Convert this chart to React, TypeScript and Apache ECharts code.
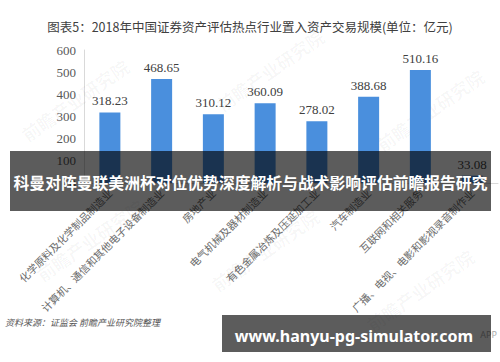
import React, { useEffect, useRef } from "react";
import * as echarts from "echarts";

const categories = [
  "化学原料及化学制品制造业",
  "计算机、通信和其他电子设备制造业",
  "房地产业",
  "电气机械及器材制造业",
  "有色金属冶炼及压延加工业",
  "汽车制造业",
  "互联网和相关服务",
  "广播、电视、电影和影视录音制作业",
];
const values = [318.23, 468.65, 310.12, 360.09, 278.02, 388.68, 510.16, 33.08];
const titleText = "图表5：2018年中国证券资产评估热点行业置入资产交易规模(单位：亿元)";
const bannerText = "科曼对阵曼联美洲杯对位优势深度解析与战术影响评估前瞻报告研究";
const urlText = "www.hanyu-pg-simulator.com";
const sourceText = "资料来源：证监会 前瞻产业研究院整理";
const watermarkText = "前瞻产业研究院";

export default function App() {
  const ref = useRef<HTMLDivElement>(null);
  useEffect(() => {
    if (!ref.current) return;
    const chart = echarts.init(ref.current, undefined, { renderer: "svg" });
    const wm = (x: number, y: number) => ({
      type: "text",
      x,
      y,
      rotation: (35 * Math.PI) / 180,
      z: 1,
      silent: true,
      style: {
        text: watermarkText,
        fill: "rgba(0,0,0,0.035)",
        font: "bold 18px 'Noto Sans CJK SC'",
        align: "center",
        verticalAlign: "middle",
      },
    });
    chart.setOption({
      animation: false,
      backgroundColor: "#ffffff",
      title: {
        text: titleText,
        left: "center",
        top: 15,
        textStyle: {
          fontFamily: "'Noto Sans CJK SC'",
          fontSize: 12.5,
          fontWeight: "normal",
          color: "#404040",
        },
      },
      grid: { left: 84, right: 2, top: 50, bottom: 179, containLabel: false },
      xAxis: {
        type: "category",
        data: categories,
        axisLine: { show: true, lineStyle: { color: "#d9d9d9" } },
        axisTick: { show: false },
        axisLabel: {
          interval: 0,
          rotate: 45,
          margin: 8,
          fontFamily: "'Noto Sans CJK SC'",
          fontSize: 10.5,
          color: "#6b6b6b",
        },
      },
      yAxis: {
        type: "value",
        min: 0,
        max: 600,
        interval: 100,
        axisLine: { show: true, lineStyle: { color: "#d9d9d9" } },
        axisTick: { show: false },
        splitLine: { show: false },
        axisLabel: {
          margin: 8,
          fontFamily: "'Liberation Serif'",
          fontSize: 13,
          color: "#595959",
        },
      },
      series: [
        {
          type: "bar",
          data: values,
          barWidth: 21,
          itemStyle: { color: "#4a8fdd" },
          label: {
            show: true,
            position: "top",
            distance: 5,
            fontFamily: "'Liberation Serif'",
            fontSize: 13,
            color: "#404040",
            formatter: (p: any) => p.value.toFixed(2),
          },
        },
      ],
      graphic: [
        wm(75, 100),
        wm(270, 70),
        wm(430, 110),
        wm(90, 240),
        wm(265, 250),
        wm(420, 290),
        {
          type: "text",
          left: 5,
          top: 318,
          z: 50,
          style: {
            text: sourceText,
            fill: "#555555",
            font: "italic 9px 'Noto Sans CJK SC'",
          },
        },
        {
          type: "text",
          x: 497,
          y: 334,
          z: 50,
          style: {
            text: "APP",
            fill: "#aaaaaa",
            font: "9px 'Noto Sans'",
            align: "right",
            verticalAlign: "middle",
          },
        },
        {
          type: "rect",
          z: 100,
          shape: { x: 10, y: 151, width: 481, height: 60 },
          style: { fill: "rgba(0,0,0,0.64)" },
        },
        {
          type: "text",
          z: 101,
          x: 250.5,
          y: 182,
          style: {
            text: bannerText,
            fill: "#ffffff",
            font: "bold 15.8px 'Noto Sans CJK SC'",
            align: "center",
            verticalAlign: "middle",
          },
        },
        {
          type: "rect",
          z: 100,
          shape: { x: 222, y: 315, width: 269, height: 37 },
          style: { fill: "rgba(0,0,0,0.64)" },
        },
        {
          type: "text",
          z: 101,
          x: 354,
          y: 336,
          style: {
            text: urlText,
            fill: "#ffffff",
            font: "bold 16px 'Noto Sans'",
            align: "center",
            verticalAlign: "middle",
          },
        },
      ],
    });
    return () => chart.dispose();
  }, []);
  return (
    <div
      ref={ref}
      style={{ position: "absolute", left: 0, top: 0, width: 500, height: 362 }}
    />
  );
}
